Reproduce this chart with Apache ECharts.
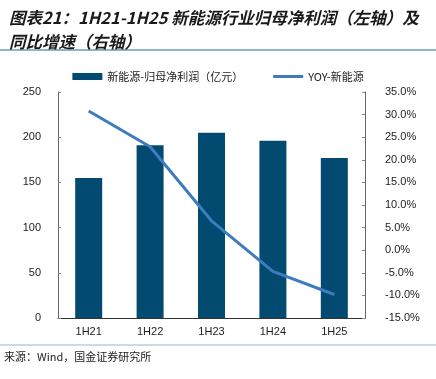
<!DOCTYPE html>
<html><head><meta charset="utf-8">
<script src="https://cdn.jsdelivr.net/npm/echarts@6/dist/echarts.min.js"></script>
<style>html,body{margin:0;padding:0;background:#fff}#c{width:436px;height:379px}</style>
</head><body><div id="c"></div>
<script>
const categories = ['1H21','1H22','1H23','1H24','1H25'];
const profitValues = [155, 191, 205, 196, 177];
const yoyValues = [30.8, 22.9, 6.5, -4.7, -9.8];
const leftTicks = {min: 0, max: 250, interval: 50};
const rightTicks = {min: -15, max: 35, interval: 5};

const chart = echarts.init(document.getElementById('c'));
const tickFont = {fontFamily: 'Liberation Sans, Arial, sans-serif', fontSize: 11, color: '#222'};
chart.setOption({
  animation: false,
  title: {
    text: '图表21：1H21-1H25 新能源行业归母净利润（左轴）及\n同比增速（右轴）',
    left: 4, top: 1,
    textStyle: {fontSize: 16.5, fontWeight: 'bold', fontStyle: 'italic', color: '#1a1a1a', lineHeight: 24, fontFamily: 'Noto Sans CJK SC'}
  },
  graphic: [
    {type: 'line', shape: {x1: 0, y1: 50, x2: 436, y2: 50}, style: {stroke: '#8fb3c9', lineWidth: 2}},
    {type: 'line', shape: {x1: 0, y1: 345, x2: 436, y2: 345}, style: {stroke: '#b9cfdd', lineWidth: 1.5}},
    {type: 'text', left: 4, top: 351, style: {text: '来源：Wind，国金证券研究所', fontSize: 11, fill: '#222', fontFamily: 'Noto Sans CJK SC'}}
  ],
  legend: {
    top: 66, left: 'center', itemGap: 30, itemWidth: 30, itemHeight: 7,
    textStyle: {fontSize: 11, color: '#222', fontFamily: 'Noto Sans CJK SC'},
    data: [
      {name: '新能源-归母净利润（亿元）', icon: 'rect'},
      {name: 'YOY-新能源', icon: 'path://M0,0H30V3H0Z', itemStyle: {color: '#3f7bbf'}}
    ]
  },
  grid: {left: 58, right: 71, top: 92, bottom: 61},
  xAxis: {
    type: 'category', data: categories,
    axisLine: {lineStyle: {color: '#333', width: 1}},
    axisTick: {inside: true, length: 4, lineStyle: {color: '#999'}},
    axisLabel: Object.assign({margin: 8}, tickFont)
  },
  yAxis: [
    {type: 'value', min: leftTicks.min, max: leftTicks.max, interval: leftTicks.interval,
     splitLine: {show: false},
     axisLine: {show: true, lineStyle: {color: '#666'}},
     axisTick: {show: true, inside: true, length: 3, lineStyle: {color: '#888'}},
     axisLabel: Object.assign({margin: 17}, tickFont)},
    {type: 'value', min: rightTicks.min, max: rightTicks.max, interval: rightTicks.interval,
     splitLine: {show: false},
     axisLine: {show: true, lineStyle: {color: '#666'}},
     axisTick: {show: true, inside: true, length: 3, lineStyle: {color: '#888'}},
     axisLabel: Object.assign({margin: 20, formatter: v => v.toFixed(1) + '%'}, tickFont)}
  ],
  series: [
    {name: '新能源-归母净利润（亿元）', type: 'bar', data: profitValues, barWidth: 27,
     itemStyle: {color: '#024a70'}},
    {name: 'YOY-新能源', type: 'line', yAxisIndex: 1, data: yoyValues, symbol: 'none',
     lineStyle: {color: '#3f7bbf', width: 3}, itemStyle: {color: '#3f7bbf'}}
  ]
});
</script></body></html>
